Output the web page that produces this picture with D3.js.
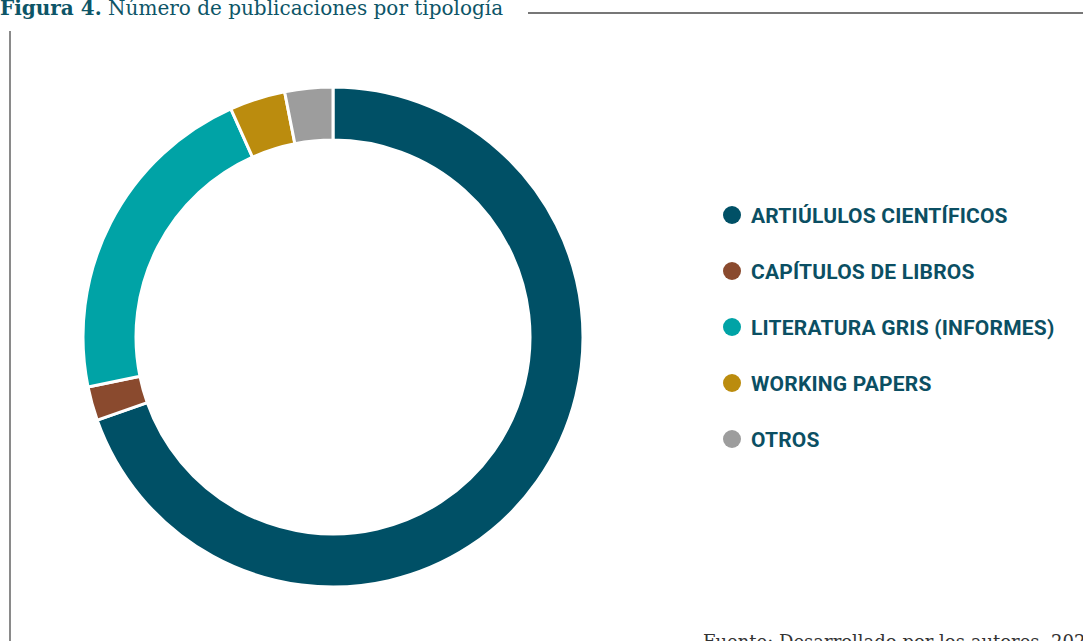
<!DOCTYPE html>
<html>
<head>
<meta charset="utf-8">
<script src="https://cdn.jsdelivr.net/npm/d3@7"></script>
<style>
  html, body { margin: 0; padding: 0; background: #fff; overflow: hidden; }
</style>
</head>
<body>
<svg id="chart" width="1083" height="641"></svg>
<script>
// data (share of publications, %)
var categories = ["ARTIÚLULOS CIENTÍFICOS", "CAPÍTULOS DE LIBROS", "LITERATURA GRIS (INFORMES)", "WORKING PAPERS", "OTROS"];
var values = [69.6, 2.2, 21.5, 3.6, 3.1];
var colours = ["#005066", "#8a4a2e", "#00a3a6", "#bb8c0e", "#9d9d9d"];

var TITLE_BOLD = "Figura 4.";
var TITLE_REST = " Número de publicaciones por tipología";
var SOURCE = "Fuente: Desarrollado por los autores, 2023.";

var width = 1083, height = 641;
var cx = 333, cy = 337, outerR = 250, innerR = 197;

var svg = d3.select("#chart");

// frame lines
svg.append("line")
  .attr("x1", 528).attr("x2", width)
  .attr("y1", 13).attr("y2", 13)
  .attr("stroke", "#777").attr("stroke-width", 2);

svg.append("line")
  .attr("x1", 10).attr("x2", 10)
  .attr("y1", 31).attr("y2", height)
  .attr("stroke", "#8a8a8a").attr("stroke-width", 2);

// title (top edge is cut by the page, as in the source)
var title = svg.append("text")
  .attr("x", 0)
  .attr("y", 15)
  .attr("fill", "#0d5567")
  .style("font-family", "'DejaVu Serif', serif")
  .style("font-size", "20px");
title.append("tspan").attr("font-weight", "bold").text(TITLE_BOLD);
title.append("tspan").text(TITLE_REST);

// donut
var pie = d3.pie().sort(null).value(function(d) { return d; });
var arc = d3.arc().innerRadius(innerR).outerRadius(outerR);

var g = svg.append("g").attr("transform", "translate(" + cx + "," + cy + ")");
g.selectAll("path")
  .data(pie(values))
  .enter()
  .append("path")
  .attr("d", arc)
  .attr("fill", function(d, i) { return colours[i]; })
  .attr("stroke", "#fff")
  .attr("stroke-width", 3);

// legend
var legend = svg.append("g").attr("class", "legend");
var item = legend.selectAll("g")
  .data(categories)
  .enter()
  .append("g")
  .attr("transform", function(d, i) { return "translate(732," + (215 + i * 56) + ")"; });

item.append("circle")
  .attr("r", 9)
  .attr("fill", function(d, i) { return colours[i]; });

item.append("text")
  .attr("x", 19)
  .attr("y", 7.5)
  .attr("fill", "#0b4f63")
  .attr("font-weight", "bold")
  .style("font-family", "Roboto, sans-serif")
  .style("font-size", "21px")
  .style("letter-spacing", "0.2px")
  .text(function(d) { return d; });

// source note, partly cut by the page edge
svg.append("text")
  .attr("x", 703)
  .attr("y", 648)
  .attr("fill", "#333")
  .style("font-family", "'DejaVu Serif', serif")
  .style("font-size", "18px")
  .text(SOURCE);
</script>
</body>
</html>
